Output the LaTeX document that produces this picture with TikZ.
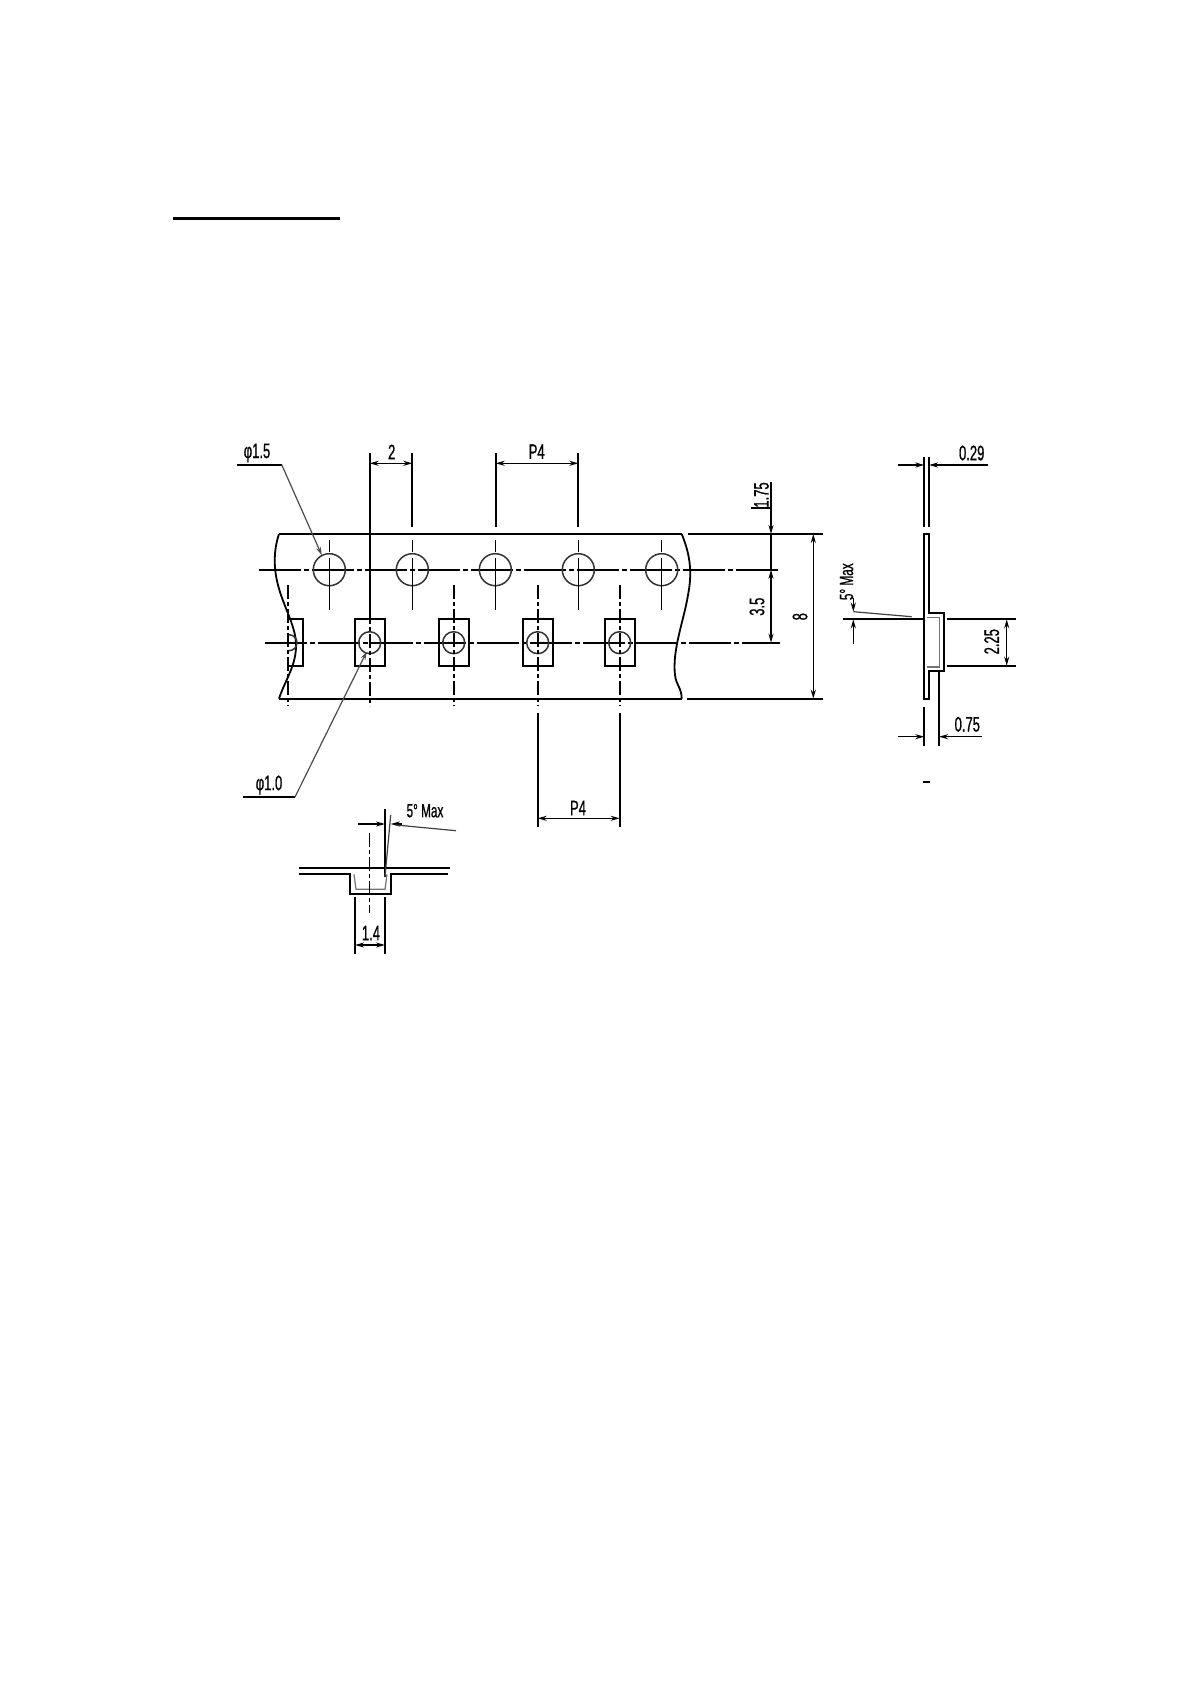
\documentclass[tikz,border=0pt]{standalone}
\usepackage{fontspec}
\setmainfont{Liberation Sans}
\newfontfamily\cad[FakeStretch=0.62,FakeBold=0.7]{Liberation Sans}
\usetikzlibrary{arrows.meta}
\tikzset{
  x=1pt,y=-1pt,
  ln/.style={line width=1.8pt,line cap=butt,line join=miter},
  thin ln/.style={line width=1.2pt,black!75},
  dim/.style={line width=1.5pt,{Stealth[length=9pt,width=5pt]}-{Stealth[length=9pt,width=5pt]}},
  tip/.style={line width=1.5pt,-{Stealth[length=9pt,width=5pt]}},
  lead/.style={line width=1.2pt,black!70,-{Stealth[length=8pt,width=5pt]}},
  chain/.style={line width=1.8pt,dash pattern=on 42pt off 3pt on 5pt off 3pt},
  short chain/.style={line width=1.6pt,dash pattern=on 14pt off 3pt on 4pt off 3pt},
  lbl/.style={inner sep=0pt,font=\cad\fontsize{21}{21}\selectfont},
  small lbl/.style={inner sep=0pt,font=\cad\fontsize{19}{19}\selectfont},
  hole/.style={line width=1.5pt,black!80},
}
\begin{document}
\begin{tikzpicture}
\useasboundingbox (0,0) rectangle (1192,1685);
\fill[white] (0,0) rectangle (1192,1685);

% title rule
\draw[line width=3pt] (173,218.3) -- (340,218.3);

% tape outline
\draw[ln] (279,534) -- (681.7,534);
\draw[ln] (279,698.7) -- (681.7,698.7);
\draw[ln] (279,534) .. controls (273,552) and (274,570) .. (278,585)
  .. controls (283,605) and (295,625) .. (296,642.7)
  .. controls (297,665) and (285,680) .. (279,698.7);
\draw[ln] (681.7,534) .. controls (689,552) and (693,570) .. (688,595)
  .. controls (684,620) and (672,650) .. (675,675)
  .. controls (676,685) and (681.7,688) .. (681.7,698.7);

% centre lines
\draw[chain] (259,569.7) -- (780,569.7);
\draw[chain] (265,642.7) -- (780,642.7);

% sprocket holes
\foreach \n/\x in {a/329.3,b/412.3,c/495.3,d/578.3,e/661.7}{
  \coordinate (h\n) at (\x,569.7);
  \draw[hole] (h\n) circle (16);
  \draw[line width=1.5pt] (\x,540) -- (\x,552) (\x,558) -- (\x,610);
}

% pockets
\draw[ln] (288,619.3) -- (303,619.3) -- (303,666) -- (288,666);
\foreach \n/\x in {b/369.7,c/453.7,d/537.7,e/619.7}{
  \coordinate (p\n) at (\x,642.7);
  \draw[ln] (\x-15,619.3) rectangle (\x+15,666);
  \draw[hole] (p\n) circle (11);
}
\draw[hole] (297,642.7) arc (0:90:8) (297,642.7) arc (0:-90:8);

% pocket centre verticals
\foreach \x in {287.7,453.7}{
  \draw[short chain] (\x,585) -- (\x,706);
}
\draw[short chain] (537.7,585) -- (537.7,706);
\draw[short chain] (619.7,585) -- (619.7,706);
\draw[short chain] (369.7,610) -- (369.7,706);

% dim 2
\coordinate (d2a) at (369.7,463.3);
\coordinate (d2b) at (412.3,463.3);
\draw[ln] (369.7,453) -- (369.7,612);
\draw[ln] (412.3,453) -- (412.3,526.7);
\draw[dim] (d2a) -- (d2b);
\node[lbl] (t2) at (391.7,452) {2};

% dim P4 top
\coordinate (d4a) at (495.7,463.3);
\coordinate (d4b) at (578.3,463.3);
\draw[ln] (495.7,453) -- (495.7,526.7);
\draw[ln] (578.3,453) -- (578.3,526.7);
\draw[dim] (d4a) -- (d4b);
\node[lbl] (tp4) at (536.7,451.7) {P4};

% dim P4 bottom
\coordinate (d5a) at (537.7,818.3);
\coordinate (d5b) at (619.7,818.3);
\draw[ln] (537.7,713) -- (537.7,827);
\draw[ln] (619.7,713) -- (619.7,827);
\draw[dim] (d5a) -- (d5b);
\node[lbl] (tp5) at (578,808) {P4};

% leaders
\node[lbl] (t15) at (257,453) {φ1.5};
\coordinate (l15a) at (236.7,464.7);
\coordinate (l15b) at (281.7,464.7);
\draw[ln] (l15a) -- (l15b);
\draw[lead] (l15b) -- (321.7,555);
\node[lbl] (t10) at (269,785) {φ1.0};
\coordinate (l10a) at (242.7,797);
\coordinate (l10b) at (295,797);
\draw[ln] (l10a) -- (l10b);
\draw[lead] (l10b) -- (366.7,651.7);

% right extension lines
\draw[ln] (687.7,534) -- (822.7,534);
\draw[ln] (687.3,698.7) -- (822.7,698.7);

% dim 8
\draw[dim] (813.3,534) -- (813.3,698.7);
\node[lbl,rotate=90] (t8) at (800,616.7) {8};

% dim 1.75 / 3.5
\draw[tip] (771,481.7) -- (771,534);
\draw[line width=1.5pt] (771,534) -- (771,569.7);
\draw[dim] (771,569.7) -- (771,642.7);
\draw[line width=1.5pt] (751,508) -- (771,508);
\node[lbl,rotate=90] (t175) at (761.5,495) {1.75};
\node[lbl,rotate=90] (t35) at (757,606.7) {3.5};

% side view
\draw[ln] (924.3,456.7) -- (924.3,526.7);
\draw[ln] (929,456.7) -- (929,526.7);
\draw[ln] (924.3,534) -- (929,534) -- (929,613.3) -- (944.3,613.3) -- (944.3,670.7)
  -- (929,670.7) -- (929,699.3) -- (924.3,699.3) -- cycle;
\draw[line width=1.3pt,black!55] (926.5,617.5) -- (939.3,617.5) -- (939.3,667) -- (926.5,667);

% dim 0.29
\draw[tip] (898.3,465) -- (924.3,465);
\draw[tip] (988.3,465) -- (929,465);
\node[lbl] (t029) at (971.7,453) {0.29};

% dim 0.75
\draw[ln] (924.3,706.7) -- (924.3,746);
\draw[ln] (939,671.7) -- (939,746);
\draw[tip] (898.3,736.7) -- (924.3,736.7);
\draw[tip] (981.7,736.7) -- (939,736.7);
\node[lbl] (t075) at (967.3,724.3) {0.75};

% dim 2.25
\draw[ln] (946.7,619.3) -- (1016,619.3);
\draw[ln] (946.7,665.7) -- (1016,665.7);
\draw[dim] (1006.7,619.3) -- (1006.7,665.7);
\node[lbl,rotate=90] (t225) at (991.7,641.7) {2.25};

% 5 deg side
\draw[ln] (843.3,619.3) -- (924.3,619.3);
\draw[thin ln] (853.3,611.7) -- (911.7,616.7);
\draw[tip] (853.3,598) -- (853.3,611.7);
\draw[tip] (853.3,644) -- (853.3,619.3);
\node[small lbl,rotate=90] (t5a) at (846.5,581.7) {5° Max};

% stray mark
\draw[line width=2pt] (923.3,782.3) -- (930,782.3);

% detail view
\draw[ln] (299.3,868) -- (450,868);
\draw[ln] (299.3,874.3) -- (350,874.3) -- (350,894) -- (390.7,894) -- (390.7,874.3) -- (448.3,874.3);
\draw[line width=1.2pt,black!55] (354,874.3) -- (356,889.3) -- (385,889.3) -- (387,874.3);
\draw[short chain] (369.3,833.3) -- (369.3,913.3);
\draw[ln] (385,809.3) -- (385,876.7);
\draw[thin ln] (390.7,815) -- (385,876.7);
\draw[ln] (355,896.7) -- (355,954);
\draw[ln] (385,896.7) -- (385,954);
\draw[dim] (355,945) -- (385,945);
\node[lbl] (t14) at (371,933) {1.4};
\draw[tip] (358.3,824) -- (385,824);
\draw[tip] (401.7,824) -- (390.7,824);
\draw[thin ln] (396,825) -- (456,830.7);
\node[small lbl] (t5b) at (425,810.7) {5° Max};
\end{tikzpicture}
\end{document}
